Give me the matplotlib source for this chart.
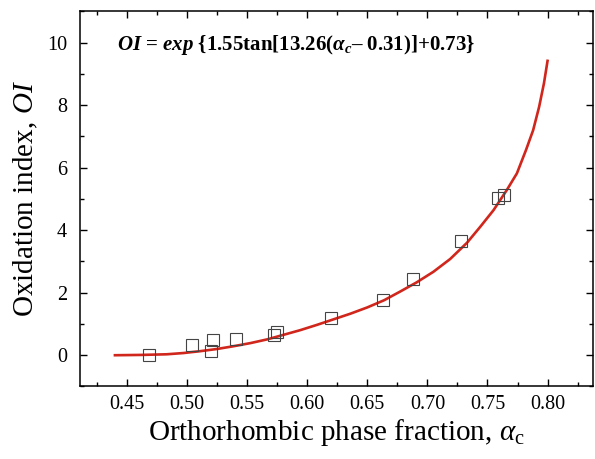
import matplotlib
matplotlib.use("Agg")
import matplotlib.pyplot as plt
from matplotlib.ticker import MultipleLocator

plt.rcParams['font.family'] = ['Liberation Serif', 'DejaVu Serif']
plt.rcParams['mathtext.fontset'] = 'custom'
plt.rcParams['mathtext.rm'] = 'Liberation Serif'
plt.rcParams['mathtext.it'] = 'Liberation Serif:italic'
plt.rcParams['mathtext.bf'] = 'Liberation Serif:bold'
plt.rcParams['mathtext.bfit'] = 'Liberation Serif:bold:italic'

# measured points (orthorhombic fraction vs oxidation index)
alpha_c = [0.468, 0.504, 0.520, 0.522, 0.541, 0.572, 0.575, 0.620,
           0.663, 0.688, 0.728, 0.759, 0.764]
oi = [0.00, 0.32, 0.13, 0.48, 0.51, 0.64, 0.74, 1.18,
      1.76, 2.43, 3.65, 5.04, 5.12]

# fitted curve
fit_alpha = [0.440, 0.462, 0.483, 0.497, 0.511, 0.525, 0.539, 0.553,
             0.567, 0.580, 0.594, 0.608, 0.622, 0.636, 0.650, 0.664,
             0.677, 0.691, 0.705, 0.719, 0.733, 0.744, 0.755, 0.766,
             0.7745, 0.782, 0.788, 0.793, 0.797, 0.800]
fit_oi = [0.00, 0.01, 0.03, 0.07, 0.13, 0.20, 0.29, 0.39,
          0.51, 0.65, 0.80, 0.97, 1.15, 1.33, 1.53, 1.76,
          2.03, 2.33, 2.67, 3.08, 3.60, 4.11, 4.64, 5.28,
          5.82, 6.56, 7.20, 7.95, 8.70, 9.42]

fig = plt.figure(figsize=(5.95, 4.59), dpi=100)
ax = fig.add_axes([0.134, 0.158, 0.863, 0.817])

ax.plot(fit_alpha, fit_oi, color='#d0261c', lw=1.9, zorder=2)
ax.plot(alpha_c, oi, ls='none', marker='s', ms=8.5, mfc='none',
        mec='#444444', mew=0.8, zorder=3)

ax.set_xlim(0.4107, 0.838)
ax.set_ylim(-1, 11)
ax.xaxis.set_major_locator(MultipleLocator(0.05))
ax.xaxis.set_minor_locator(MultipleLocator(0.025))
ax.yaxis.set_major_locator(MultipleLocator(2))
ax.yaxis.set_minor_locator(MultipleLocator(1))
ax.xaxis.set_major_formatter(plt.FormatStrFormatter('%.2f'))

ax.tick_params(which='both', direction='in', top=True, right=True,
               labelsize=14.5, width=1)
ax.tick_params(which='major', length=5)
ax.tick_params(which='minor', length=3)
ax.tick_params(axis='y', pad=9)
ax.tick_params(axis='x', pad=6)
for s in ax.spines.values():
    s.set_linewidth(1.1)

ax.set_xlabel(r"Orthorhombic phase fraction, $\alpha_{\rm c}$", fontsize=21, labelpad=2)
ax.set_ylabel(r"Oxidation index, $\it{OI}$", fontsize=21, labelpad=5)

ax.text(0.073, 0.91,
        r"$\mathbfit{OI}$ = $\mathbfit{exp}$ {1.55tan[13.26($\mathbfit{\alpha}_{\mathbfit{c}}$– 0.31)]+0.73}",
        transform=ax.transAxes, fontsize=15, fontweight='bold', va='center')

fig.savefig("out.png", dpi=100)
